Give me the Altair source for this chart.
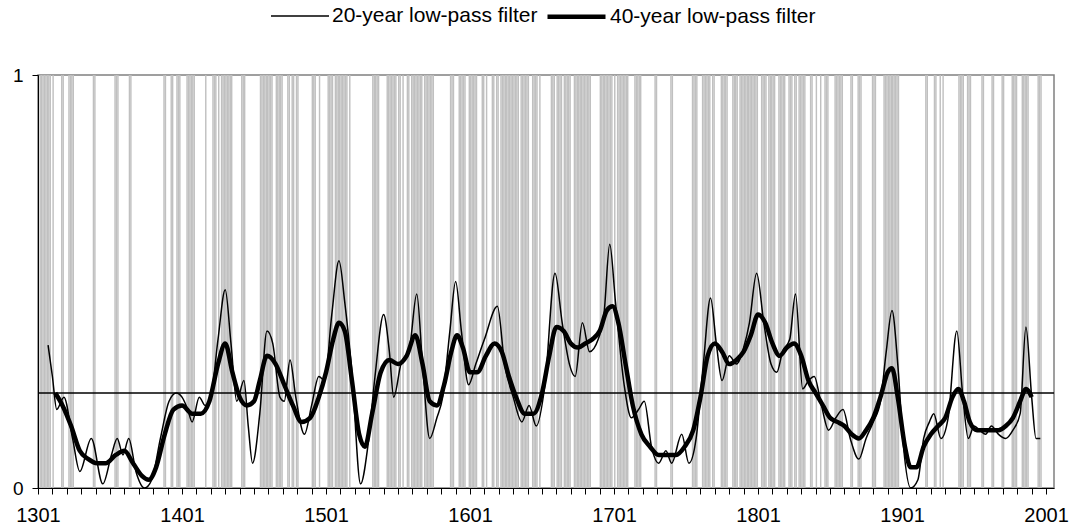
import altair as alt
import pandas as pd

# Years flagged as events, stored as inclusive (first, last) runs
event_runs = [
    (1302, 1309), (1311, 1311), (1317, 1318), (1322, 1325), (1339, 1340), (1354, 1356), (1364, 1365),
    (1388, 1389), (1393, 1394), (1397, 1399), (1404, 1409), (1417, 1417), (1422, 1424), (1426, 1426),
    (1428, 1435), (1442, 1444), (1455, 1463), (1466, 1470), (1474, 1475),
    (1477, 1478), (1480, 1481), (1491, 1493), (1496, 1496), (1502, 1505), (1507, 1515), (1517, 1517),
    (1533, 1537), (1543, 1549), (1551, 1552), (1554, 1554), (1557, 1558), (1560, 1567),
    (1569, 1575), (1587, 1589), (1593, 1597), (1600, 1605), (1609, 1610), (1612, 1612), (1616, 1617),
    (1619, 1620), (1622, 1634), (1636, 1641), (1644, 1647), (1649, 1649),
    (1657, 1659), (1661, 1664), (1666, 1670), (1673, 1684), (1691, 1699), (1701, 1701), (1703, 1710),
    (1715, 1719), (1729, 1730), (1740, 1741),
    (1755, 1758), (1762, 1767), (1769, 1770), (1775, 1779), (1783, 1786), (1788, 1800), (1803, 1806),
    (1808, 1812), (1815, 1819), (1822, 1824), (1826, 1827), (1829, 1833),
    (1837, 1838), (1841, 1841), (1844, 1844), (1847, 1849), (1854, 1859), (1865, 1866), (1870, 1872),
    (1880, 1882), (1888, 1898), (1917, 1918),
    (1923, 1924), (1927, 1927), (1929, 1929), (1940, 1943), (1946, 1948), (1956, 1957), (1963, 1964),
    (1970, 1971), (1977, 1980), (1984, 1988), (1995, 1997),
]

# 20-year low-pass filtered series
lp20_years = [1308, 1311, 1314, 1319, 1325, 1330, 1338, 1346, 1352, 1356, 1360, 1364, 1369, 1375, 1380,
              1386, 1392, 1397, 1401, 1405, 1408, 1413, 1417, 1421, 1426, 1431, 1435, 1439, 1444, 1447,
              1450, 1455, 1460, 1464, 1469, 1472, 1476, 1480, 1486, 1491, 1496, 1500, 1505, 1510, 1514,
              1519, 1525, 1530, 1535, 1541, 1545, 1548, 1553, 1559, 1564, 1568, 1573, 1578, 1582, 1587,
              1591, 1595, 1600, 1605, 1611, 1620, 1625, 1631, 1637, 1642, 1647, 1653, 1660, 1665, 1670,
              1674, 1679, 1684, 1690, 1694, 1698, 1702, 1708, 1713, 1718, 1722, 1727, 1732, 1737, 1741,
              1748, 1753, 1758, 1763, 1768, 1772, 1776, 1781, 1786, 1791, 1795, 1800, 1805, 1810, 1814,
              1818, 1823, 1827, 1832, 1836, 1840, 1845, 1850, 1855, 1860, 1865, 1871, 1876, 1881, 1886,
              1890, 1894, 1898, 1902, 1907, 1912, 1916, 1920, 1923, 1928, 1933, 1939, 1943, 1947, 1951,
              1955, 1959, 1963, 1968, 1973, 1978, 1983, 1987, 1991, 1994, 1997]
lp20_vals = [0.346, 0.27, 0.19, 0.22, 0.12, 0.04, 0.12, 0.01, 0.08, 0.12, 0.08, 0.12, 0.04, 0.0, 0.02,
             0.12, 0.21, 0.23, 0.22, 0.19, 0.16, 0.22, 0.20, 0.22, 0.36, 0.48, 0.35, 0.21, 0.26, 0.15,
             0.06, 0.18, 0.38, 0.35, 0.22, 0.21, 0.31, 0.22, 0.13, 0.20, 0.27, 0.26, 0.42, 0.55, 0.45,
             0.28, 0.01, 0.10, 0.27, 0.42, 0.33, 0.22, 0.30, 0.34, 0.47, 0.30, 0.12, 0.17, 0.22, 0.38,
             0.50, 0.38, 0.25, 0.30, 0.36, 0.44, 0.30, 0.22, 0.16, 0.20, 0.15, 0.25, 0.52, 0.40, 0.30,
             0.27, 0.40, 0.33, 0.36, 0.42, 0.59, 0.45, 0.25, 0.17, 0.19, 0.21, 0.10, 0.06, 0.09, 0.06,
             0.13, 0.06, 0.12, 0.30, 0.46, 0.35, 0.26, 0.32, 0.30, 0.34, 0.40, 0.52, 0.40, 0.30, 0.28,
             0.33, 0.36, 0.47, 0.24, 0.26, 0.27, 0.20, 0.14, 0.17, 0.19, 0.12, 0.07, 0.12, 0.16, 0.21,
             0.33, 0.43, 0.30, 0.10, 0.0, 0.02, 0.12, 0.16, 0.18, 0.12, 0.17, 0.38, 0.23, 0.12, 0.15,
             0.14, 0.13, 0.15, 0.13, 0.12, 0.14, 0.18, 0.39, 0.22, 0.12, 0.12]

# 40-year low-pass filtered series
lp40_years = [1313, 1318, 1324, 1330, 1336, 1342, 1348, 1355, 1361, 1367, 1373, 1378, 1383, 1389, 1395,
              1401, 1408, 1414, 1420, 1426, 1431, 1436, 1441, 1446, 1451, 1455, 1460, 1466, 1472, 1478,
              1484, 1490, 1496, 1501, 1506, 1510, 1514, 1519, 1524, 1528, 1533, 1539, 1545, 1551, 1557,
              1563, 1568, 1573, 1578, 1583, 1588, 1592, 1596, 1601, 1606, 1612, 1618, 1623, 1628, 1633,
              1639, 1645, 1651, 1656, 1661, 1666, 1671, 1676, 1681, 1686, 1691, 1696, 1700, 1704, 1709,
              1714, 1720, 1726, 1732, 1738, 1744, 1750, 1756, 1761, 1766, 1771, 1776, 1781, 1786, 1791,
              1796, 1801, 1806, 1811, 1816, 1821, 1826, 1831, 1836, 1841, 1846, 1851, 1856, 1861, 1866,
              1871, 1876, 1881, 1886, 1891, 1894, 1898, 1903, 1907, 1911, 1916, 1921, 1926, 1931, 1936,
              1940, 1944, 1948, 1953, 1958, 1963, 1968, 1973, 1978, 1983, 1987, 1991]
lp40_vals = [0.23, 0.20, 0.15, 0.09, 0.07, 0.06, 0.06, 0.08, 0.09, 0.06, 0.03, 0.02, 0.05, 0.13, 0.19,
             0.20, 0.18, 0.18, 0.21, 0.30, 0.35, 0.28, 0.22, 0.20, 0.21, 0.26, 0.32, 0.30, 0.25, 0.20,
             0.16, 0.17, 0.22, 0.28, 0.36, 0.40, 0.38, 0.26, 0.13, 0.10, 0.18, 0.28, 0.31, 0.30, 0.32,
             0.37, 0.30, 0.21, 0.20, 0.25, 0.33, 0.37, 0.34, 0.28, 0.28, 0.32, 0.35, 0.33, 0.27, 0.22,
             0.18, 0.18, 0.23, 0.32, 0.39, 0.38, 0.35, 0.34, 0.35, 0.36, 0.38, 0.43, 0.44, 0.40, 0.30,
             0.20, 0.13, 0.10, 0.08, 0.08, 0.08, 0.10, 0.14, 0.22, 0.32, 0.35, 0.33, 0.30, 0.31, 0.33,
             0.37, 0.42, 0.40, 0.35, 0.32, 0.34, 0.35, 0.32, 0.26, 0.23, 0.20, 0.17, 0.16, 0.15, 0.13,
             0.12, 0.14, 0.17, 0.22, 0.28, 0.29, 0.22, 0.10, 0.05, 0.05, 0.10, 0.13, 0.15, 0.17, 0.22,
             0.24, 0.21, 0.16, 0.14, 0.14, 0.14, 0.14, 0.15, 0.17, 0.21, 0.24, 0.22]

threshold = 0.23
series_names = ["20-year low-pass filter", "40-year low-pass filter"]
x_ticks = list(range(1301, 2002, 10))

FONT = "Liberation Sans"

events = pd.DataFrame(
    [{"year": y, "year_end": y + 1} for a, b in event_runs for y in range(a, b + 1)]
)
lines = pd.concat([
    pd.DataFrame({"year": lp20_years, "value": lp20_vals, "series": series_names[0]}),
    pd.DataFrame({"year": lp40_years, "value": lp40_vals, "series": series_names[1]}),
])
ref = pd.DataFrame({"value": [threshold]})

x_scale = alt.Scale(domain=[1301, 2006.5], nice=False, zero=False)
y_scale = alt.Scale(domain=[0, 1], nice=False)

x_axis = alt.Axis(
    values=x_ticks,
    labelExpr="(datum.value - 1301) % 100 == 0 ? '' + datum.value : ''",
    title=None, grid=False, tickSize=6, tickColor="black", domainColor="black",
    labelFont=FONT, labelFontSize=20, labelColor="black", labelPadding=11,
    labelFlush=False, labelOverlap=False, labelBound=False,
)
y_axis = alt.Axis(
    values=[0, 1], format="d", title=None, grid=False, tickSize=6, tickColor="black",
    domainColor="black", labelFont=FONT, labelFontSize=19, labelColor="black",
    labelPadding=9, labelOverlap=False,
)

bars = alt.Chart(events).mark_rect(color="#c0c0c0").encode(
    x=alt.X("year:Q", scale=x_scale, axis=x_axis),
    x2="year_end:Q",
)

rule = alt.Chart(ref).mark_rule(color="black", strokeWidth=1.6).encode(
    y=alt.Y("value:Q", scale=y_scale, axis=y_axis),
)

legend = alt.Legend(
    title=None, orient="none", direction="horizontal", legendX=232, legendY=-90,
    symbolType="stroke", symbolSize=3364, labelFont=FONT, labelFontSize=21,
    labelColor="black", labelOffset=2, columnPadding=0, labelLimit=0,
)

series_lines = alt.Chart(lines).mark_line(interpolate="monotone").encode(
    x=alt.X("year:Q", scale=x_scale, axis=x_axis),
    y=alt.Y("value:Q", scale=y_scale, axis=y_axis),
    color=alt.Color("series:N", scale=alt.Scale(domain=series_names, range=["black", "black"]),
                    legend=legend),
    strokeWidth=alt.StrokeWidth("series:N",
                                scale=alt.Scale(domain=series_names, range=[1.5, 4.5]),
                                legend=legend),
)

chart = alt.layer(bars, rule, series_lines).properties(
    width=1016, height=413,
    padding={"left": 38, "top": 75, "right": 18, "bottom": 44},
    autosize="none",
    background="white",
).configure_view(stroke="#808080", strokeWidth=1.5)

chart.save("out.html", embed_options={"renderer": "svg", "actions": False})
